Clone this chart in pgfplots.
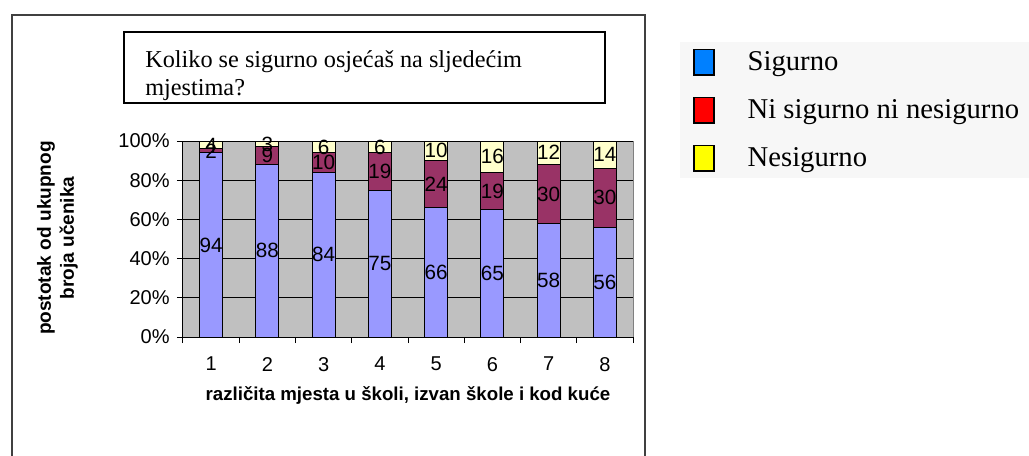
\documentclass[border=0pt]{standalone}
\usepackage{pgfplots}
\pgfplotsset{compat=1.18}
\usepackage{pgfplotstable}
\usepackage{fontspec}
\setmainfont{Liberation Serif}
\newfontfamily\arial{Liberation Sans}
\definecolor{cSig}{HTML}{9999FF}
\definecolor{cNi}{HTML}{993366}
\definecolor{cNe}{HTML}{FFFFCC}
\definecolor{lSig}{HTML}{0080FF}
\definecolor{lNi}{HTML}{FF0000}
\definecolor{lNe}{HTML}{FFFF00}
\definecolor{plotbg}{HTML}{C0C0C0}
\pgfplotstableread{
x s n e
1 94 2 4
2 88 9 3
3 84 10 6
4 75 19 6
5 66 24 10
6 65 19 16
7 58 30 12
8 56 30 14
}\datatable
\begin{document}
\begin{tikzpicture}[x=0.75pt,y=0.75pt]
\path[use as bounding box] (0,0) rectangle (1029,-455);
\draw[line width=1.5pt, black!75] (12,-460) -- (12,-15) -- (645,-15) -- (645,-460);
\draw[line width=1.5pt] (124,-32) rectangle (605,-103);
\node[anchor=base west, font=\fontsize{18.2}{21}\selectfont, inner sep=0pt] at (145,-67) {Koliko se sigurno osjećaš na sljedećim};
\node[anchor=base west, font=\fontsize{18.2}{21}\selectfont, inner sep=0pt] at (145,-95) {mjestima?};
\begin{axis}[
  at={(137.25pt,-252.75pt)}, anchor=south west,
  scale only axis, width=337.5pt, height=147pt,
  ybar stacked, bar width=17.25pt,
  xmin=0.5, xmax=8.5, ymin=0, ymax=100,
  axis lines*=left,
  axis line style={black, line width=0.75pt},
  axis background/.style={fill=plotbg},
  xtick={1,...,8}, xticklabels={1,2,3,4,5,6,7,8},
  major x tick style={draw=none},
  minor xtick={0.5,1.5,...,8.5},
  ytick={0,20,...,100}, yticklabels={0\%,20\%,40\%,60\%,80\%,100\%},
  tick align=outside,
  major tick length=4.5pt, minor tick length=4.5pt,
  tick style={black, line width=0.75pt},
  ymajorgrids, major grid style={black, line width=0.75pt},
  extra x ticks={8.5}, extra x tick labels={},
  extra x tick style={xmajorgrids=true, major grid style={draw=gray, line width=0.75pt}},
  tick label style={font=\arial\fontsize{15}{17}\selectfont},
  xticklabel style={yshift=-7pt},
  yticklabel style={xshift=-2pt},
  xlabel={različita mjesta u školi, izvan škole i kod kuće},
  xlabel style={at={(axis description cs:0.5,-0.30)}, anchor=center, font=\arial\bfseries\fontsize{14}{16}\selectfont},
  ylabel={postotak od ukupnog\\broja učenika},
  ylabel style={at={(axis description cs:-0.279,0.505)}, anchor=center, align=center, font=\arial\bfseries\fontsize{14.3}{17.25}\selectfont},
]
\addplot[fill=cSig, draw=black, line width=0.75pt] table[x=x, y=s] {\datatable};
\addplot[fill=cNi, draw=black, line width=0.75pt] table[x=x, y=n] {\datatable};
\addplot[fill=cNe, draw=black, line width=0.75pt] table[x=x, y=e] {\datatable};
\end{axis}
\begin{axis}[
  at={(137.25pt,-252.75pt)}, anchor=south west,
  scale only axis, width=337.5pt, height=147pt,
  xmin=0.5, xmax=8.5, ymin=0, ymax=100,
  axis lines=none,
  legend style={at={(1.104,1.505)}, anchor=north west, fill=black!3, draw=none,
    font=\fontsize{21.5}{25}\selectfont, row sep=16pt, inner xsep=10pt, inner ysep=5pt},
  legend cell align=left,
  every node near coord/.append style={anchor=center, font=\arial\fontsize{15.5}{17}\selectfont, text=black},
]
\addlegendimage{legend image code/.code={\draw[fill=lSig, draw=black, line width=1pt] (0pt,-9.5pt) rectangle (15pt,9.5pt); \path (38pt,0pt);}}
\addlegendentry{Sigurno}
\addlegendimage{legend image code/.code={\draw[fill=lNi, draw=black, line width=1pt] (0pt,-9.5pt) rectangle (15pt,9.5pt); \path (38pt,0pt);}}
\addlegendentry{Ni sigurno ni nesigurno}
\addlegendimage{legend image code/.code={\draw[fill=lNe, draw=black, line width=1pt] (0pt,-9.5pt) rectangle (15pt,9.5pt); \path (38pt,0pt);}}
\addlegendentry{Nesigurno}
\addplot[draw=none, mark=none, nodes near coords, point meta=explicit symbolic, forget plot] table[x=x, y expr=\thisrow{s}/2, meta=s] {\datatable};
\addplot[draw=none, mark=none, nodes near coords, point meta=explicit symbolic, forget plot] table[x=x, y expr=\thisrow{s}+\thisrow{n}/2, meta=n] {\datatable};
\addplot[draw=none, mark=none, nodes near coords, point meta=explicit symbolic, forget plot] table[x=x, y expr=\thisrow{s}+\thisrow{n}+\thisrow{e}/2, meta=e] {\datatable};
\end{axis}
\end{tikzpicture}
\end{document}
